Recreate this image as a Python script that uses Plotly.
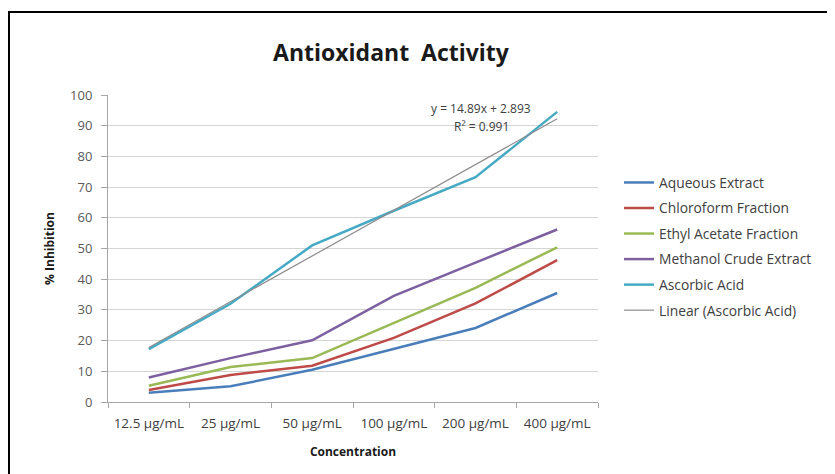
import plotly.graph_objects as go

categories = ["12.5 µg/mL", "25 µg/mL", "50 µg/mL", "100 µg/mL", "200 µg/mL", "400 µg/mL"]
aqueous = [3.0, 5.1, 10.5, 17.4, 24.1, 35.5]
chloroform = [3.9, 8.8, 11.8, 20.9, 32.1, 46.2]
ethyl_acetate = [5.3, 11.4, 14.3, 25.8, 37.2, 50.4]
methanol = [8.0, 14.3, 20.1, 34.6, 45.4, 56.2]
ascorbic = [17.2, 32.0, 51.0, 62.3, 73.2, 94.5]
trend_slope = 14.89
trend_intercept = 2.893
trend_r2 = 0.991

names = ["Aqueous Extract", "Chloroform Fraction", "Ethyl Acetate Fraction",
         "Methanol Crude Extract", "Ascorbic Acid"]
series = [aqueous, chloroform, ethyl_acetate, methanol, ascorbic]
colors = ["#4A7EBB", "#BE4B48", "#98B954", "#7D60A0", "#46AAC5"]

trend = [trend_slope * (i + 1) + trend_intercept for i in range(len(categories))]

FONT = "Open Sans, Lato, Liberation Sans, sans-serif"

fig = go.Figure()
for i, (n, s, c) in enumerate(zip(names, series, colors)):
    fig.add_trace(go.Scatter(x=categories, y=s, name=n, mode="lines",
                             line=dict(color=c, width=2.5), legendgroup=str(i)))
fig.add_trace(go.Scatter(x=categories, y=trend, name="Linear (Ascorbic Acid)", mode="lines",
                         line=dict(color="#8C8C8C", width=1.2), legendgroup="t"))

OFF = 8  # page body margin
W, H = 835 - OFF, 474 - OFF
# plot area in page pixels
L, R, T, B = 108, 598, 95, 402
pw, ph = R - L, B - T

def px(x):
    return (x - L) / pw

def py(y):
    return (B - y) / ph

fig.update_layout(
    width=W, height=H,
    margin=dict(l=L - OFF, r=W - (R - OFF), t=T - OFF, b=H - (B - OFF), pad=0),
    paper_bgcolor="white", plot_bgcolor="white",
    font=dict(family=FONT, size=12, color="#404040"),
    title=dict(text="<b>Antioxidant  Activity</b>", x=px(391), xref="paper", xanchor="center",
               y=1 - (53 - OFF) / H, yanchor="middle", font=dict(size=23, color="#1a1a1a")),
    showlegend=True,
    legend=dict(x=px(619), y=py(167), xanchor="left", yanchor="top",
                font=dict(size=13.8, color="#404040"), itemwidth=30,
                tracegroupgap=4.6, bgcolor="rgba(0,0,0,0)"),
    xaxis=dict(type="category", range=[-0.5, 5.5], showgrid=False,
               showline=True, linecolor="#A6A6A6", linewidth=1,
               ticks="outside", tickson="boundaries", ticklen=5, tickcolor="#A6A6A6",
               ticklabelstandoff=9, tickangle=0, automargin=False,
               tickfont=dict(size=13.5, color="#404040"),
               title=dict(text="<b>Concentration</b>", standoff=16,
                          font=dict(size=12, color="#1a1a1a"))),
    yaxis=dict(range=[0, 100], dtick=10, showgrid=True, gridcolor="#D4D4D4",
               showline=True, linecolor="#A6A6A6", linewidth=1,
               ticks="outside", ticklen=6, tickcolor="#A6A6A6",
               ticklabelstandoff=6, automargin=False,
               zeroline=False,
               tickfont=dict(size=13, color="#595959"),
               title=dict(text="<b>% Inhibition</b>", standoff=12,
                          font=dict(size=12, color="#1a1a1a"))),
    annotations=[
        dict(x=px(481), y=py(108), xref="paper", yref="paper", showarrow=False,
             xanchor="center", yanchor="middle",
             text=f"y = {trend_slope}x + {trend_intercept}", font=dict(size=12, color="#404040")),
        dict(x=px(481), y=py(126), xref="paper", yref="paper", showarrow=False,
             xanchor="center", yanchor="middle",
             text=f"R² = {trend_r2}", font=dict(size=12, color="#404040")),
    ],
    shapes=[dict(type="rect", xref="paper", yref="paper",
                 x0=px(OFF + 1), x1=px(828), y0=py(12), y1=py(490),
                 line=dict(color="black", width=2), fillcolor="rgba(0,0,0,0)", layer="above")],
)

fig.write_html("out.html")
